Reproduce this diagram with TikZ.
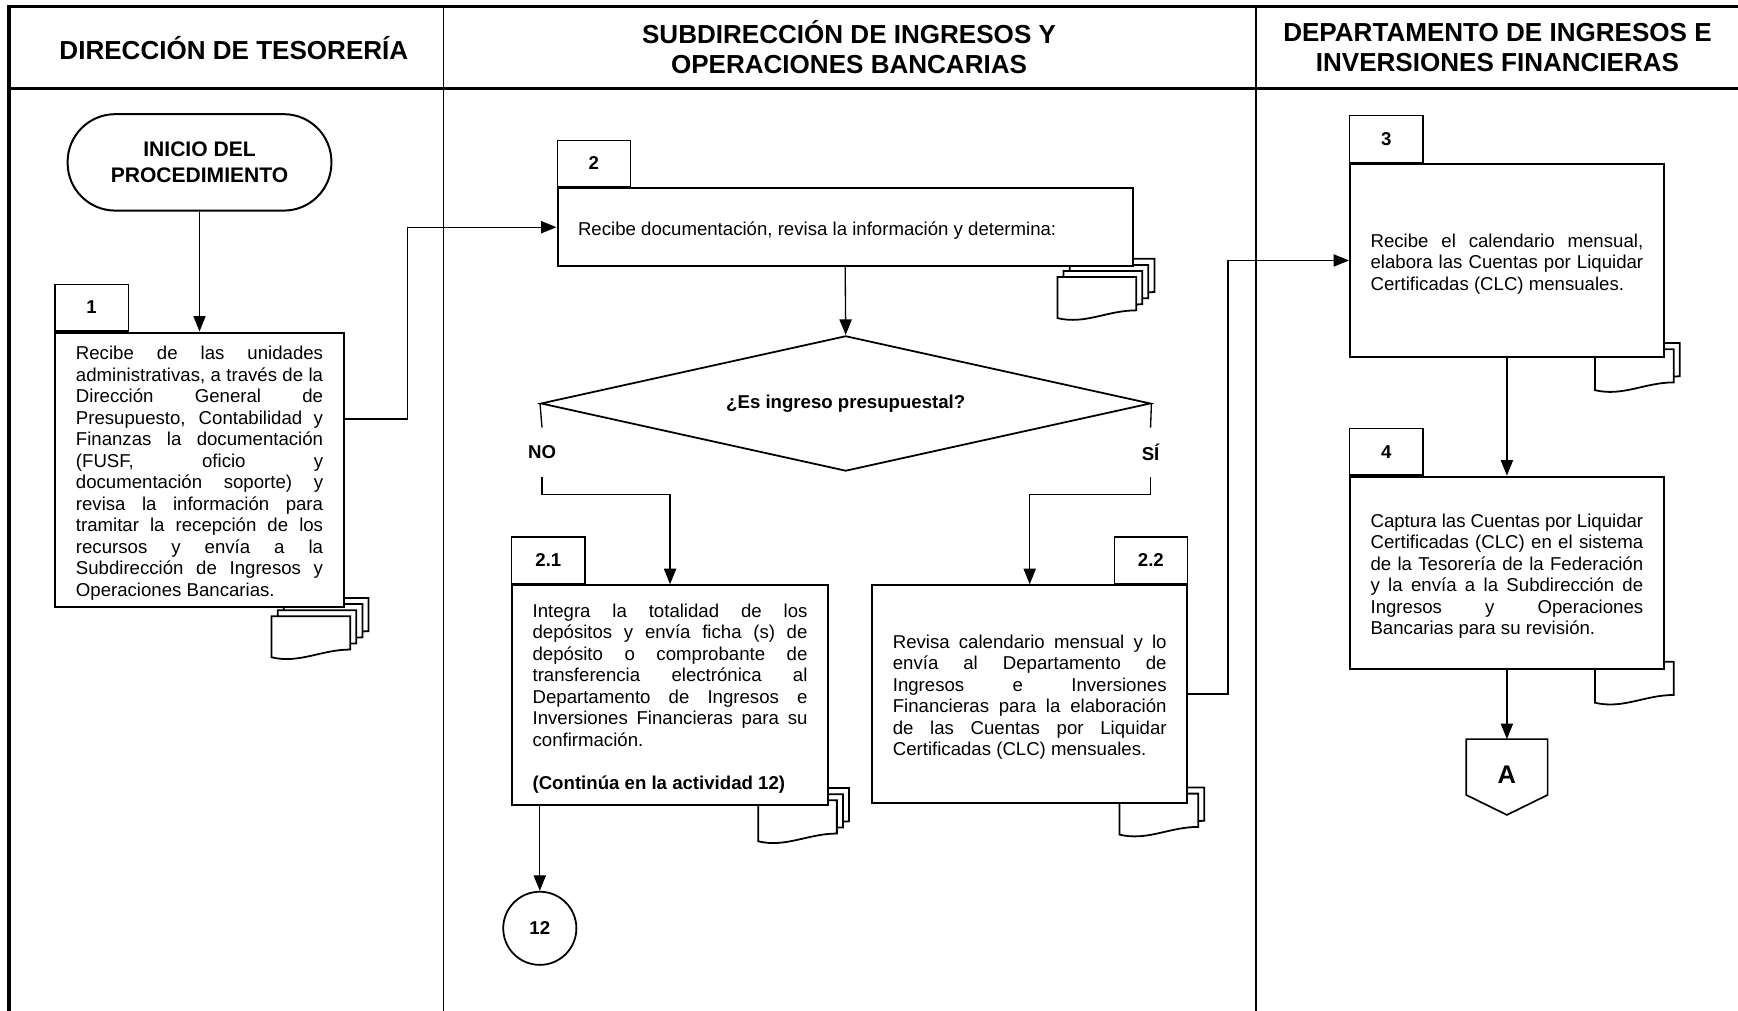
\documentclass[tikz,border=0pt]{standalone}
\usepackage{fontspec}
\setmainfont{Liberation Sans}
\usetikzlibrary{arrows.meta,shapes.geometric}
\tolerance=10000
\hyphenpenalty=10000
\exhyphenpenalty=10000

\newcommand\boxfont{\fontsize{16.8}{19.4}\selectfont}
% front sheet top left at (#1,#2), #3 sheets behind it
\newcommand\docstack[3]{%
  \foreach \k in {#3,...,0}{
    \begin{scope}[shift={(#1+5.5*\k,#2-5.5*\k)}]
      \draw[doc] (0,0) -- (71,0) -- (71,30) .. controls (45,30) and (25,43) .. (0,37) -- cycle;
    \end{scope}
  }%
}

\tikzset{
  outer/.style={line width=3pt},
  lane/.style={line width=1.5pt},
  hdr/.style={align=center, font=\fontsize{23.5}{27}\selectfont\bfseries},
  term/.style={draw, line width=1.8pt, rounded corners=43pt, minimum width=238pt,
    minimum height=87pt, align=center, font=\fontsize{19}{23}\selectfont\bfseries},
  act/.style={draw, line width=1.8pt, fill=white, text width=#1, align=justify,
    inner xsep=18.5pt, inner ysep=0pt, font=\boxfont,
    execute at begin node={\rule{0pt}{18pt}}},
  tab/.style={draw, line width=1.2pt, fill=white, minimum width=66pt,
    minimum height=42pt, inner sep=0pt, font=\boxfont\bfseries},
  decision/.style={diamond, draw, line width=1.6pt, aspect=4.5, minimum width=550pt,
    minimum height=122pt, inner sep=0pt, font=\boxfont\bfseries},
  lbl/.style={minimum height=44pt, inner sep=0pt, font=\boxfont\bfseries},
  link/.style={circle, draw, line width=1.6pt, minimum size=66pt, inner sep=0pt,
    font=\boxfont\bfseries},
  doc/.style={draw, fill=white, line width=1.6pt},
  wire/.style={line width=1.2pt},
  arr/.style={wire, -{Triangle[length=14pt,width=11pt]}},
}

\begin{document}
\begin{tikzpicture}[x=1pt,y=-1pt]
  \useasboundingbox (0,0) rectangle (1568,912);

  % swimlanes
  \draw[outer] (8,912) -- (8,6) -- (1568,6);
  \draw[outer] (8,80) -- (1568,80);
  \draw[lane] (400,6) -- (400,912);
  \draw[lane] (1133,6) -- (1133,912);

  \node[hdr] (h1) at (211,43) {DIRECCIÓN DE TESORERÍA};
  \node[hdr] (h2) at (766,42.5) {SUBDIRECCIÓN DE INGRESOS Y\\OPERACIONES BANCARIAS};
  \node[hdr] (h3) at (1351,42.5) {DEPARTAMENTO DE INGRESOS E\\INVERSIONES FINANCIERAS};

  % documents behind the boxes
  \docstack{245}{556}{3}
  \docstack{954}{250}{3}
  \docstack{684}{722}{2}
  \docstack{1010}{716}{1}
  \docstack{1439}{315}{1}
  \docstack{1439}{597}{0}

  \node[term] (start) at (180,146.5) {INICIO DEL\\PROCEDIMIENTO};

  \node[act=223pt, minimum height=248pt] (box1) at (180,424) {Recibe de las unidades\linebreak
    administrativas, a través de la\linebreak Dirección General de\linebreak
    Presupuesto, Contabilidad y\linebreak Finanzas la documentación\linebreak
    (FUSF, oficio y\linebreak documentación soporte) y\linebreak
    revisa la información para\linebreak tramitar la recepción de los\linebreak
    recursos y envía a la\linebreak Subdirección de Ingresos y\linebreak
    Operaciones Bancarias.};
  \node[tab, anchor=south west] (t1) at (box1.north west) {1};

  \node[act=482pt, minimum height=70pt] (box2) at (762.5,205)
    {Recibe documentación, revisa la información y determina:};
  \node[tab, anchor=south west] (t2) at (box2.north west) {2};

  \node[decision] (dec) at (763,364) {¿Es ingreso presupuestal?};
  \node[lbl] (no) at (489,408) {NO};
  \node[lbl] (si) at (1038,408) {SÍ};

  \node[act=248pt, minimum height=198pt] (box21) at (604.5,627) {Integra la totalidad de los\linebreak
    depósitos y envía ficha (s) de\linebreak depósito o comprobante de\linebreak
    transferencia electrónica al\linebreak Departamento de Ingresos e\linebreak
    Inversiones Financieras para su\linebreak confirmación.\par\vspace{19.4pt}
    \textbf{(Continúa en la actividad 12)}};
  \node[tab, anchor=south west] (t21) at (box21.north west) {2.1};

  \node[act=247pt, minimum height=196pt] (box22) at (929,626) {Revisa calendario mensual y lo\linebreak
    envía al Departamento de\linebreak Ingresos e Inversiones\linebreak
    Financieras para la elaboración\linebreak de las Cuentas por Liquidar\linebreak
    Certificadas (CLC) mensuales.};
  \node[tab, anchor=south east] (t22) at (box22.north east) {2.2};

  \node[link] (c12) at (487,837.5) {12};

  \node[act=246pt, minimum height=174pt] (box3) at (1359.5,235) {Recibe el calendario mensual,\linebreak
    elabora las Cuentas por Liquidar\linebreak Certificadas (CLC) mensuales.};
  \node[tab, anchor=south west] (t3) at (box3.north west) {3};

  \node[act=246pt, minimum height=174pt] (box4) at (1359.5,517) {Captura las Cuentas por Liquidar\linebreak
    Certificadas (CLC) en el sistema\linebreak de la Tesorería de la Federación\linebreak
    y la envía a la Subdirección de\linebreak Ingresos y Operaciones\linebreak
    Bancarias para su revisión.};
  \node[tab, anchor=south west] (t4) at (box4.north west) {4};

  \node[minimum width=73pt, minimum height=68pt, inner sep=0pt,
    font=\fontsize{23}{27}\selectfont\bfseries] (offA) at (1359.5,701) {\raisebox{4pt}{A}};
  \draw[line width=1.5pt] (offA.north west) -- (offA.north east) -- ([yshift=18pt]offA.south east)
    -- (offA.south) -- ([yshift=18pt]offA.south west) -- cycle;

  % connectors
  \draw[arr] (start.south) -- (box1.north);
  \draw[arr] ([yshift=46pt]box1.east) -- ++(57,0) |- (box2.west);
  \draw[arr] (box2.south) -- (dec.north);
  \draw[wire] (dec.west) -- (no.north);
  \draw[arr] (no.south) -- ++(0,16) -| (box21.north);
  \draw[wire] (dec.east) -- (si.north);
  \draw[arr] (si.south) -- ++(0,16) -| (box22.north);
  \draw[arr] (box21.south -| c12) -- (c12.north);
  \draw[arr] (box22.east) -- ++(36,0) |- (box3.west);
  \draw[arr] (box3.south) -- (box4.north);
  \draw[arr] (box4.south) -- (offA.north);

\end{tikzpicture}
\end{document}
